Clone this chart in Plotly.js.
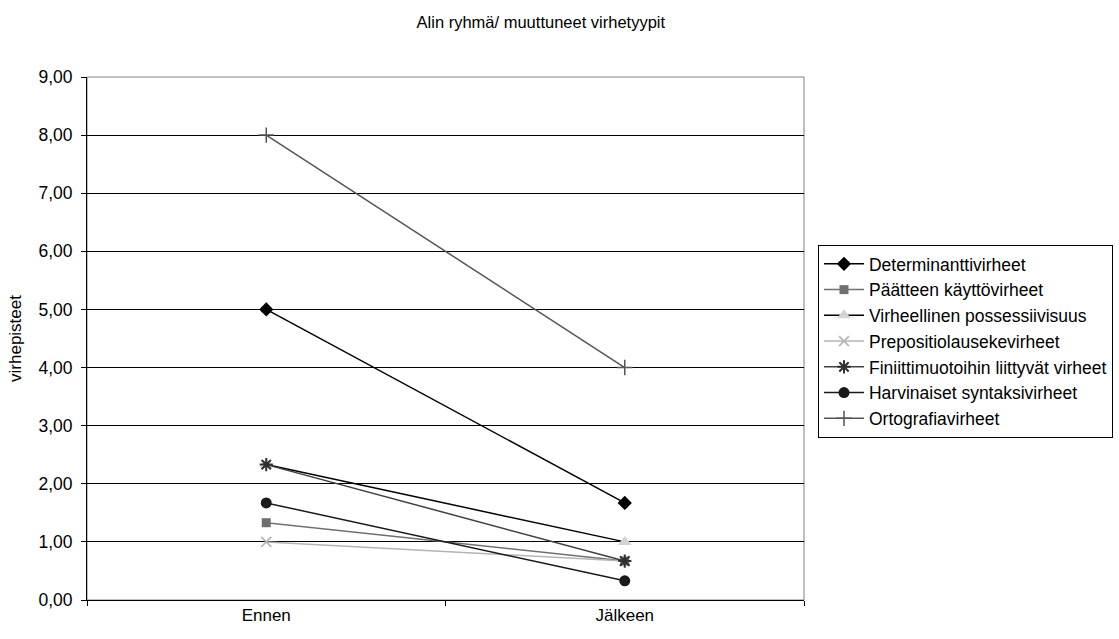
<!DOCTYPE html>
<html>
<head>
<meta charset="utf-8">
<script src="https://cdn.plot.ly/plotly-3.0.1.min.js"></script>
<style>
  html, body { margin: 0; padding: 0; background: #fff; }
  #chart { width: 1119px; height: 639px; }
</style>
</head>
<body>
<div id="chart"></div>
<script>
// Mittausajankohdat
const categories = ["Ennen", "Jälkeen"];

// Virhetyyppien keskiarvot (virhepisteet)
const determinantti = [5.00, 1.67];
const paatteen = [1.33, 0.67];
const possessiivisuus = [2.33, 1.00];
const prepositio = [1.00, 0.67];
const finiitti = [2.33, 0.67];
const harvinaiset = [1.67, 0.33];
const ortografia = [8.00, 4.00];

const yTicks = [0, 1, 2, 3, 4, 5, 6, 7, 8, 9];

function series(name, values, lineColor, symbol, markerColor, size, markerLineWidth) {
  return {
    type: "scatter",
    mode: "lines+markers",
    name: name,
    x: categories,
    y: values,
    line: { color: lineColor, width: 1.5 },
    marker: {
      symbol: symbol,
      color: markerColor,
      size: size,
      line: { color: markerColor, width: markerLineWidth || 0 }
    }
  };
}

const traces = [
  series("Determinanttivirheet", determinantti, "#000000", "diamond", "#000000", 11),
  series("Päätteen käyttövirheet", paatteen, "#707070", "square", "#707070", 9),
  series("Virheellinen possessiivisuus", possessiivisuus, "#000000", "triangle-up", "#d4d4d4", 12),
  series("Prepositiolausekevirheet", prepositio, "#b4b4b4", "x-thin-open", "#b4b4b4", 10, 1.5),
  series("Finiittimuotoihin liittyvät virheet", finiitti, "#404040", "asterisk-open", "#303030", 11, 2),
  series("Harvinaiset syntaksivirheet", harvinaiset, "#1a1a1a", "circle", "#1a1a1a", 11),
  series("Ortografiavirheet", ortografia, "#555555", "cross-thin-open", "#555555", 11, 1.5)
];

const layout = {
  width: 1119,
  height: 639,
  paper_bgcolor: "#ffffff",
  plot_bgcolor: "#ffffff",
  separators: ", ",
  font: { family: "Liberation Sans, Arial, sans-serif", size: 17, color: "#000" },
  margin: { l: 87, r: 315, t: 77, b: 39, autoexpand: false },
  title: {
    text: "Alin ryhmä/ muuttuneet virhetyypit",
    font: { size: 16.5, color: "#000" },
    x: 0.633, xref: "paper", xanchor: "center",
    y: 0.966, yref: "container", yanchor: "middle"
  },
  xaxis: {
    type: "category",
    range: [-0.5, 1.5],
    showgrid: false,
    zeroline: false,
    showline: true,
    linecolor: "#000",
    linewidth: 1,
    ticks: "outside",
    tickson: "boundaries",
    ticklen: 5,
    tickcolor: "#000",
    tickfont: { size: 17 }
  },
  yaxis: {
    range: [0, 9],
    tickvals: yTicks,
    tickformat: ".2f",
    showgrid: true,
    gridcolor: "#000",
    gridwidth: 1,
    zeroline: false,
    showline: true,
    linecolor: "#000",
    linewidth: 1,
    ticks: "outside",
    ticklen: 5,
    tickcolor: "#000",
    ticklabelstandoff: 5,
    tickfont: { size: 17.5 },
    title: { text: "virhepisteet", font: { size: 17 }, standoff: 12 }
  },
  shapes: [
    {
      type: "rect", xref: "paper", yref: "paper",
      x0: 0, x1: 1, y0: 0, y1: 1,
      line: { color: "#808080", width: 1 },
      layer: "below"
    }
  ],
  legend: {
    x: 1.0195, xanchor: "left",
    y: 0.6788, yanchor: "top",
    bordercolor: "#000",
    borderwidth: 1,
    bgcolor: "#fff",
    font: { size: 17.5 },
    itemwidth: 40,
    tracegroupgap: 0
  },
  showlegend: true
};

Plotly.newPlot("chart", traces, layout, { displayModeBar: false, staticPlot: true });
</script>
</body>
</html>
